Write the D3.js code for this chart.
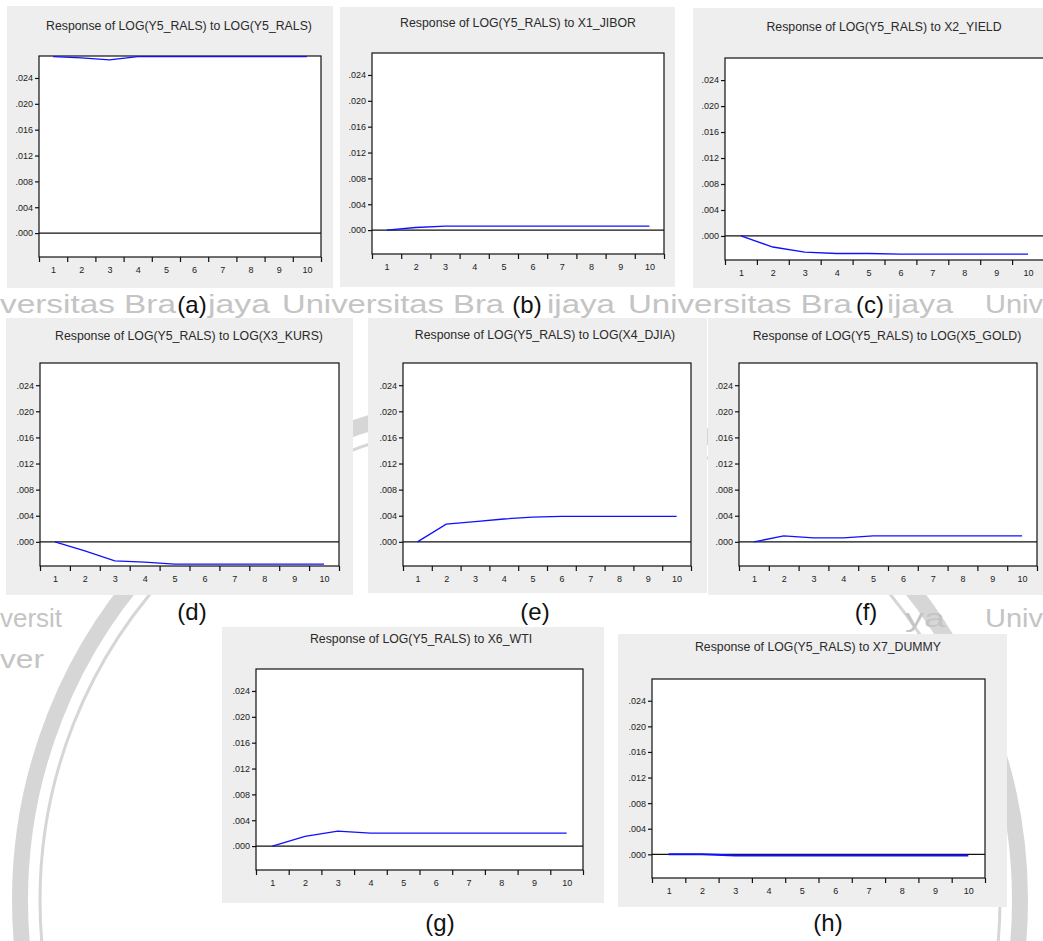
<!DOCTYPE html>
<meta charset="utf-8">
<title>Impulse responses of LOG(Y5_RALS)</title>
<script src="https://cdn.jsdelivr.net/npm/d3@7"></script>
<style>
    body {
        margin: 0;
        background: #fff;
    }

    svg {
        display: block;
        font-family: Arial, "Liberation Sans", sans-serif;
    }

    .panel-bg {
        fill: #eeeeee;
    }

    .box {
        fill: #fff;
        stroke: #111;
        stroke-width: 1.2px;
    }

    .zero {
        stroke: #111;
        stroke-width: 1.2px;
    }

    .resp {
        fill: none;
        stroke: #1010ff;
        stroke-width: 1.3px;
    }

    .title {
        font-size: 12.3px;
        fill: #2a2a2a;
        text-anchor: middle;
    }

    .caption {
        font-size: 24px;
        fill: #111;
        text-anchor: middle;
    }

    .tick text {
        font-size: 9px;
        fill: #222;
    }

    .tick line {
        stroke: #111;
        stroke-width: 1.2px;
    }

    .watermark {
        font-size: 26px;
        fill: #c4c4c4;
    }

    .ring {
        fill: none;
        stroke: #d6d6d6;
    }
</style>

<body>
    <svg id="chart" width="1043" height="941"></svg>
</body>

<script>
    // periods and axis ticks
    var periods = [1, 2, 3, 4, 5, 6, 7, 8, 9, 10];
    var yTicks = [0, 0.004, 0.008, 0.012, 0.016, 0.020, 0.024];
    var yDomain = [-0.0037, 0.0274];

    var titles = [
        "Response of LOG(Y5_RALS) to LOG(Y5_RALS)",
        "Response of LOG(Y5_RALS) to X1_JIBOR",
        "Response of LOG(Y5_RALS) to X2_YIELD",
        "Response of LOG(Y5_RALS) to LOG(X3_KURS)",
        "Response of LOG(Y5_RALS) to LOG(X4_DJIA)",
        "Response of LOG(Y5_RALS) to LOG(X5_GOLD)",
        "Response of LOG(Y5_RALS) to X6_WTI",
        "Response of LOG(Y5_RALS) to X7_DUMMY"
    ];
    var captions = ["(a)", "(b)", "(c)", "(d)", "(e)", "(f)", "(g)", "(h)"];

    // responses
    var respRals = [0.0273, 0.0271, 0.0268, 0.0273, 0.0273, 0.0273, 0.0273, 0.0273, 0.0273, 0.0273];
    var respJibor = [0, 0.0004, 0.0006, 0.0006, 0.0006, 0.0006, 0.0006, 0.0006, 0.0006, 0.0006];
    var respYield = [0, -0.0017, -0.0025, -0.0027, -0.0027, -0.0028, -0.0028, -0.0028, -0.0028, -0.0028];
    var respKurs = [0, -0.0014, -0.0029, -0.0031, -0.0034, -0.0034, -0.0034, -0.0034, -0.0034, -0.0034];
    var respDjia = [0, 0.0027, 0.0031, 0.0035, 0.0038, 0.0039, 0.0039, 0.0039, 0.0039, 0.0039];
    var respGold = [0, 0.0009, 0.0006, 0.0006, 0.0009, 0.0009, 0.0009, 0.0009, 0.0009, 0.0009];
    var respWti = [0, 0.0015, 0.0023, 0.0020, 0.0020, 0.0020, 0.0020, 0.0020, 0.0020, 0.0020];
    var respDummy = [0, 0, -0.0002, -0.0002, -0.0002, -0.0002, -0.0002, -0.0002, -0.0002, -0.0002];

    var series = [respRals, respJibor, respYield, respKurs, respDjia, respGold, respWti, respDummy];

    // where each graph sits on the page: grey frame, plot box, title and caption
    var layout = [
        { bg: [7, 6, 333, 288], box: [39, 56, 321, 257], tx: 179, ty: 30, cx: 192, cy: 313 },
        { bg: [340, 7, 675, 287], box: [372, 53, 664, 254], tx: 518, ty: 27, cx: 527, cy: 313 },
        { bg: [693, 8, 1043, 288], box: [725, 58, 1044, 260], tx: 884, ty: 31, cx: 870, cy: 313 },
        { bg: [6, 318, 353, 595], box: [40, 363, 339, 566], tx: 189, ty: 340, cx: 192, cy: 620 },
        { bg: [368, 318, 707, 593], box: [403, 363, 691, 566], tx: 545, ty: 339, cx: 535, cy: 620 },
        { bg: [708, 318, 1043, 595], box: [739, 363, 1037, 566], tx: 887, ty: 340, cx: 866, cy: 620 },
        { bg: [222, 627, 604, 903], box: [256, 669, 583, 870], tx: 421, ty: 643, cx: 440, cy: 931 },
        { bg: [618, 634, 1007, 907], box: [652, 679, 985, 878], tx: 818, ty: 651, cx: 828, cy: 931 }
    ];

    // pieces of the page watermark: text, left x, baseline y, stretched width
    var watermark = [
        ["versitas Bra", 0, 313, 176],
        ["jaya", 208, 313, 62],
        ["Universitas Bra", 282, 313, 222],
        ["ijaya", 547, 313, 68],
        ["Universitas Bra", 628, 313, 224],
        ["ijaya", 887, 313, 66],
        ["Univ", 985, 313, 58],
        ["versit", 0, 627, 62],
        ["ya", 905, 627, 40],
        ["Univ", 985, 627, 58],
        ["ver", 0, 668, 44]
    ];

    var svg = d3.select("#chart");

    // faint university seal behind the graphs
    svg.append("circle").attr("class", "ring")
        .attr("cx", 520).attr("cy", 900).attr("r", 500)
        .style("stroke-width", 16);
    svg.append("circle").attr("class", "ring")
        .attr("cx", 520).attr("cy", 900).attr("r", 480)
        .style("stroke-width", 3);

    svg.append("g").selectAll("text")
        .data(watermark)
        .enter()
        .append("text")
        .attr("class", "watermark")
        .attr("x", function (d) { return d[1]; })
        .attr("y", function (d) { return d[2]; })
        .attr("textLength", function (d) { return d[3]; })
        .attr("lengthAdjust", "spacingAndGlyphs")
        .text(function (d) { return d[0]; });

    var fmt = function (d) {
        return d3.format(".3f")(d).replace(/^0/, "");
    };

    series.forEach(function (vals, i) {
        var L = layout[i];
        var g = svg.append("g");

        g.append("rect").attr("class", "panel-bg")
            .attr("x", L.bg[0]).attr("y", L.bg[1])
            .attr("width", L.bg[2] - L.bg[0]).attr("height", L.bg[3] - L.bg[1]);

        var x = d3.scaleLinear().domain([0.5, 10.5]).range([L.box[0], L.box[2]]);
        var y = d3.scaleLinear().domain(yDomain).range([L.box[3], L.box[1]]);

        g.append("rect").attr("class", "box")
            .attr("x", L.box[0]).attr("y", L.box[1])
            .attr("width", L.box[2] - L.box[0]).attr("height", L.box[3] - L.box[1]);

        // y axis
        var ya = g.append("g").attr("transform", "translate(" + L.box[0] + ",0)")
            .call(d3.axisLeft(y).tickValues(yTicks).tickSize(4).tickPadding(2).tickFormat(fmt));
        ya.select(".domain").remove();

        // x axis: marks on period boundaries, labels in between
        var xm = g.append("g").attr("transform", "translate(0," + L.box[3] + ")")
            .call(d3.axisBottom(x).tickValues(d3.range(0.5, 11, 1)).tickSize(5).tickFormat(""));
        xm.select(".domain").remove();
        var xl = g.append("g").attr("transform", "translate(0," + L.box[3] + ")")
            .call(d3.axisBottom(x).tickValues(periods).tickSize(0).tickPadding(10));
        xl.select(".domain").remove();

        g.append("line").attr("class", "zero")
            .attr("x1", L.box[0]).attr("x2", L.box[2])
            .attr("y1", y(0)).attr("y2", y(0));

        var line = d3.line()
            .x(function (d, k) { return x(periods[k]); })
            .y(function (d) { return y(d); });

        g.append("path").attr("class", "resp")
            .attr("d", line(vals))
            .style("stroke-width", i === 7 ? "2px" : null);

        g.append("text").attr("class", "title")
            .attr("x", L.tx).attr("y", L.ty)
            .text(titles[i]);

        svg.append("text").attr("class", "caption")
            .attr("x", L.cx).attr("y", L.cy)
            .text(captions[i]);
    });
</script>
